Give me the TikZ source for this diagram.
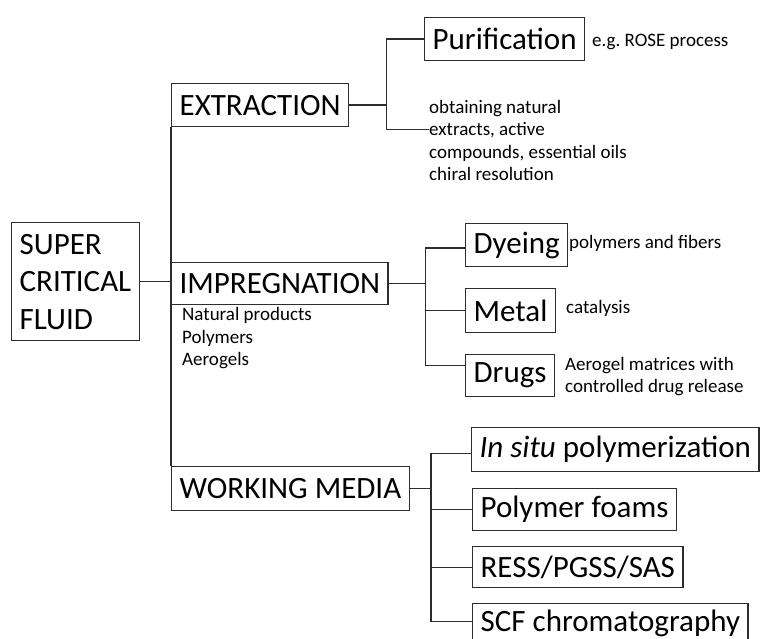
\documentclass[tikz,border=0pt]{standalone}
\usepackage{fontspec}
\setmainfont{Carlito}
\usepackage{xcolor}
\usepackage{tikz}
\usetikzlibrary{positioning,calc}
\definecolor{framegray}{RGB}{45,45,45}
\frenchspacing

\begin{document}
\begin{tikzpicture}[
  x=1pt, y=-1pt,
  every node/.style={font=\fontsize{19}{22.5}\selectfont, inner sep=0pt},
  topic/.style={rectangle, draw=framegray, line width=1.3pt, anchor=north west,
    inner xsep=8pt, font=\fontsize{31}{37.5}\selectfont},
  note/.style={anchor=west, align=left},
  link/.style={line width=1.3pt, color=framegray}
]
  \clip (0,0) rectangle (763,639);

  % main and first level
  \node[topic, minimum height=118pt, align=left] (scf) at (11,222) {SUPER\\CRITICAL\\FLUID};
  \node[topic, minimum height=43pt] (extr) at (171,83) {EXTRACTION};
  \node[topic, minimum height=42pt] (impr) at (171,262) {IMPREGNATION};
  \node[topic, minimum height=44pt] (work) at (171,466) {WORKING MEDIA};

  % second level
  \node[topic, minimum height=43pt] (puri) at (424,17) {Purification};
  \node[topic, minimum height=43pt] (dye) at (465,223) {Dyeing};
  \node[topic, minimum height=44pt] (metal) at (465,288) {Metal};
  \node[topic, minimum height=42pt] (drugs) at (465,354) {Drugs};
  \node[topic, minimum height=44pt] (insitu) at (471,427) {\textit{In situ} polymerization};
  \node[topic, minimum height=42pt] (foams) at (472,488) {Polymer foams};
  \node[topic, minimum height=41pt] (ress) at (472,546) {RESS/PGSS/SAS};
  \node[topic, minimum height=39pt] (scfc) at (472,603) {SCF chromatography};

  % side notes
  \node[note] (rose) at (592,42) {e.g. ROSE process};
  \node[note] (natex) at (429,140.5) {obtaining natural\\extracts, active\\compounds, essential oils\\chiral resolution};
  \node[note] (natprod) at (182,338.5) {Natural products\\Polymers\\Aerogels};
  \node[note] (fibers) at (569,243) {polymers and fibers};
  \node[note] (catal) at (566,308) {catalysis};
  \node[note] (aerog) at (565,376.5) {Aerogel matrices with\\controlled drug release};

  % trunk
  \draw[link] (extr.south west) -- (work.north west);
  \draw[link] (scf.east) -- (scf.east -| impr.west);

  % branches
  \coordinate (ej) at ($(extr.east)+(37,0)$);
  \coordinate (ij) at ($(impr.east)+(37,0)$);
  \coordinate (wj) at ($(work.east)+(21,0)$);
  \draw[link] (extr.east) -- (ej);
  \draw[link] (puri.west) -| (ej) |- ([yshift=11pt]natex.west);
  \draw[link] (impr.east) -- (ij);
  \foreach \t/\s in {dye/-3, metal/0, drugs/10} {
    \draw[link] (ij) |- ([yshift=\s pt]\t.west);
  }
  \draw[link] (work.east) -- (wj);
  \foreach \t/\s in {insitu/-4, foams/0, ress/0, scfc/2} {
    \draw[link] (wj) |- ([yshift=\s pt]\t.west);
  }
\end{tikzpicture}
\end{document}
